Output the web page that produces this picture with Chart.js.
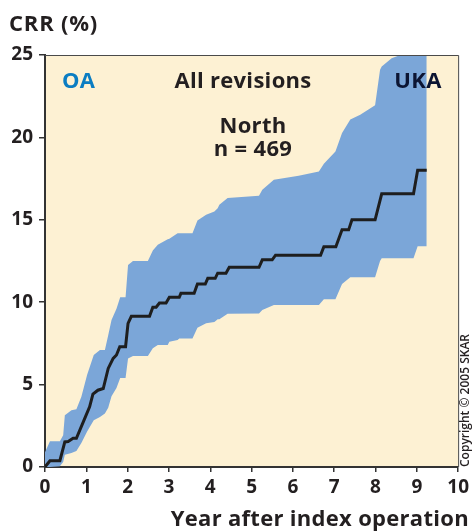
<!DOCTYPE html>
<html>
<head>
<meta charset="utf-8">
<script src="https://cdn.jsdelivr.net/npm/chart.js@4/dist/chart.umd.min.js"></script>
<style>
  html, body { margin: 0; padding: 0; background: #fff; }
  #wrap { width: 473px; height: 531px; }
</style>
</head>
<body>
<div id="wrap"><canvas id="crrChart" width="473" height="531"></canvas></div>
<script>
/* ================= DATA ================= */

// confidence band, shared x positions (years)
const bandYears = [0, 0.12, 0.36, 0.44, 0.48, 0.64, 0.76, 0.88, 1.02, 1.18, 1.33, 1.45, 1.53, 1.61, 1.73, 1.82, 1.95, 2.01, 2.13, 2.49, 2.61, 2.73, 2.97, 3.01, 3.21, 3.25, 3.57, 3.69, 3.9, 4.1, 4.18, 4.22, 4.42, 5.18, 5.26, 5.54, 6.14, 6.63, 6.75, 7.03, 7.19, 7.39, 7.63, 7.99, 8.11, 8.15, 8.39, 8.6, 8.92, 9.02, 9.24];
const bandUpper = [0.9, 1.56, 1.56, 1.93, 3.14, 3.45, 3.5, 4.26, 5.6, 6.79, 7.1, 7.1, 8.0, 8.92, 9.6, 10.3, 10.3, 12.26, 12.5, 12.5, 13.13, 13.48, 13.82, 13.85, 14.19, 14.19, 14.19, 14.95, 15.3, 15.5, 15.7, 15.91, 16.32, 16.46, 16.82, 17.43, 17.67, 17.93, 18.4, 19.15, 20.27, 21.08, 21.38, 21.95, 24.1, 24.3, 24.8, 25, 25, 25, 25];
const bandLower = [0, 0, 0.05, 0.3, 0.75, 0.85, 0.97, 1.45, 2.15, 2.84, 3.04, 3.25, 3.6, 4.3, 4.8, 5.4, 5.4, 6.59, 6.73, 6.73, 7.2, 7.4, 7.4, 7.6, 7.7, 7.8, 7.8, 8.45, 8.72, 8.8, 8.96, 8.96, 9.3, 9.32, 9.53, 9.83, 9.83, 9.83, 10.18, 10.18, 11.1, 11.51, 11.51, 11.51, 12.5, 12.66, 12.66, 12.66, 12.66, 13.4, 13.4];

// cumulative revision rate line
const lineYears = [0, 0.12, 0.36, 0.48, 0.56, 0.68, 0.76, 0.96, 1.08, 1.16, 1.28, 1.41, 1.53, 1.65, 1.73, 1.81, 1.95, 2.01, 2.09, 2.53, 2.61, 2.69, 2.77, 2.93, 3.01, 3.25, 3.29, 3.61, 3.69, 3.88, 3.94, 4.12, 4.18, 4.38, 4.46, 5.18, 5.26, 5.5, 5.58, 6.67, 6.75, 7.04, 7.19, 7.35, 7.43, 7.99, 8.15, 8.92, 9.02, 9.24];
const lineCrr = [0, 0.38, 0.38, 1.52, 1.55, 1.74, 1.74, 2.94, 3.65, 4.42, 4.66, 4.76, 5.98, 6.59, 6.8, 7.3, 7.3, 8.72, 9.14, 9.14, 9.7, 9.7, 9.95, 9.95, 10.3, 10.3, 10.54, 10.54, 11.1, 11.1, 11.45, 11.45, 11.76, 11.76, 12.12, 12.12, 12.57, 12.57, 12.85, 12.85, 13.37, 13.37, 14.39, 14.39, 15.0, 15.0, 16.58, 16.58, 18.0, 18.0];

const xTicks = [0, 1, 2, 3, 4, 5, 6, 7, 8, 9, 10];
const yTicks = [0, 5, 10, 15, 20, 25];

const CREAM = "#fdf1d3";
const BAND = "#7ba6d8";
const INK = "#231f20";
const FONT = "'Open Sans', 'DejaVu Sans', sans-serif";

/* ================= PLUGINS ================= */

const plotBackground = {
  id: "plotBackground",
  beforeDraw(chart) {
    const { ctx, chartArea: a } = chart;
    ctx.save();
    ctx.fillStyle = CREAM;
    ctx.fillRect(a.left, a.top, a.right - a.left, a.bottom - a.top);
    ctx.restore();
  }
};

const labels = {
  id: "labels",
  afterDraw(chart) {
    const { ctx, chartArea: a } = chart;
    ctx.save();

    // frame on top and right
    ctx.strokeStyle = "#4a4a4a";
    ctx.lineWidth = 1;
    ctx.beginPath();
    ctx.moveTo(a.left, a.top + 0.5);
    ctx.lineTo(a.right + 0.5, a.top + 0.5);
    ctx.lineTo(a.right + 0.5, a.bottom);
    ctx.stroke();

    ctx.letterSpacing = "0.3px";
    ctx.fillStyle = INK;
    ctx.font = "bold 22px " + FONT;
    ctx.textAlign = "left";
    ctx.letterSpacing = "0.8px";
    ctx.fillText("CRR (%)", 9, 31);
    ctx.letterSpacing = "0.3px";

    ctx.textAlign = "right";
    ctx.fillText("Year after index operation", 469, 526);

    ctx.textAlign = "left";
    ctx.fillStyle = "#0b7dc2";
    ctx.fillText("OA", 62, 88);

    ctx.fillStyle = INK;
    ctx.textAlign = "center";
    ctx.fillText("All revisions", 243, 88);
    ctx.fillText("North", 253, 133);
    ctx.fillText("n = 469", 253, 156);

    ctx.fillStyle = "#0c1533";
    ctx.fillText("UKA", 418, 88);

    // copyright, vertical
    ctx.letterSpacing = "0px";
    ctx.translate(469, a.bottom);
    ctx.rotate(-Math.PI / 2);
    ctx.fillStyle = INK;
    ctx.font = "600 12px " + FONT;
    ctx.textAlign = "left";
    ctx.fillText("Copyright \u00a9 2005 SKAR", 0, 0);

    ctx.restore();
  }
};

/* ================= CHART ================= */

const toPoints = (xs, ys) => xs.map((x, i) => ({ x: x, y: ys[i] }));

new Chart(document.getElementById("crrChart"), {
  type: "line",
  data: {
    datasets: [
      {
        data: toPoints(lineYears, lineCrr),
        borderColor: "#1e1e1e",
        borderWidth: 3,
        pointRadius: 0,
        tension: 0,
        fill: false
      },
      {
        data: toPoints(bandYears, bandUpper),
        borderWidth: 0,
        borderColor: "transparent",
        backgroundColor: BAND,
        pointRadius: 0,
        tension: 0,
        fill: "+1"
      },
      {
        data: toPoints(bandYears, bandLower),
        borderWidth: 0,
        borderColor: "transparent",
        pointRadius: 0,
        tension: 0,
        fill: false
      }
    ]
  },
  options: {
    responsive: false,
    animation: false,
    layout: { padding: { top: 55, right: 13, left: 0, bottom: 0 } },
    plugins: {
      legend: { display: false },
      tooltip: { enabled: false }
    },
    scales: {
      x: {
        type: "linear",
        min: 0,
        max: 10,
        afterFit: s => { s.height = 64; },
        afterBuildTicks: s => { s.ticks = xTicks.map(v => ({ value: v })); },
        ticks: {
          color: INK,
          padding: 4,
          maxRotation: 0,
          font: { family: FONT, size: 19, weight: "bold" }
        },
        grid: { drawOnChartArea: false, tickLength: 5, color: "#333", lineWidth: 1.5 },
        border: { display: true, color: "#333", width: 2 }
      },
      y: {
        min: 0,
        max: 25,
        afterFit: s => { s.width = 45; },
        afterBuildTicks: s => { s.ticks = yTicks.map(v => ({ value: v })); },
        ticks: {
          color: INK,
          padding: 6,
          font: { family: FONT, size: 19, weight: "bold" }
        },
        grid: { drawOnChartArea: false, tickLength: 6, color: "#333", lineWidth: 1.5 },
        border: { display: true, color: "#333", width: 2 }
      }
    }
  },
  plugins: [plotBackground, labels]
});
</script>
</body>
</html>
